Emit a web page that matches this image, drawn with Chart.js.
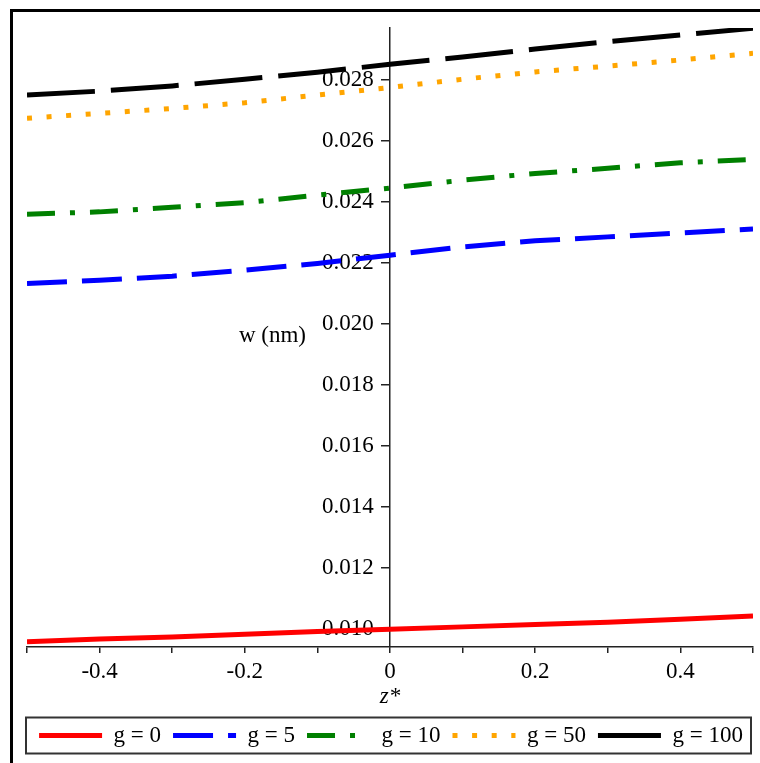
<!DOCTYPE html>
<html>
<head>
<meta charset="utf-8">
<title>w (nm) vs z*</title>
<script src="https://cdn.jsdelivr.net/npm/chart.js@4.4.1/dist/chart.umd.min.js"></script>
<style>
  body { margin: 0; background: #fff; overflow: hidden; }
  #frame {
    position: absolute; left: 10px; top: 9px; width: 800px; height: 800px;
    border-left: 3px solid #000; border-top: 3px solid #000;
  }
  #wrap { position: absolute; left: 0; top: 0; width: 760px; height: 763px; }
</style>
</head>
<body>
<div id="frame"></div>
<div id="wrap"><canvas id="chart"></canvas></div>
<script>
// z* positions (read every 0.1 along the axis)
const zVals = [-0.5, -0.4, -0.3, -0.2, -0.1, 0, 0.1, 0.2, 0.3, 0.4, 0.5];

// w (nm) for each g
const wG0   = [0.00958, 0.00967, 0.00974, 0.00983, 0.00992, 0.00999, 0.01007, 0.01015, 0.01022, 0.01032, 0.01043];
const wG5   = [0.02133, 0.02144, 0.02157, 0.02177, 0.02199, 0.02226, 0.02253, 0.02273, 0.02286, 0.02299, 0.02312];
const wG10  = [0.02360, 0.02368, 0.02383, 0.02398, 0.02423, 0.02446, 0.02472, 0.02494, 0.02511, 0.02529, 0.02540];
const wG50  = [0.02675, 0.02691, 0.02707, 0.02726, 0.02751, 0.02776, 0.02803, 0.02827, 0.02846, 0.02866, 0.02888];
const wG100 = [0.02751, 0.02764, 0.02781, 0.02803, 0.02826, 0.02852, 0.02876, 0.02902, 0.02926, 0.02948, 0.02970];

const seriesLabels = ["g = 0", "g = 5", "g = 10", "g = 50", "g = 100"];
const xLabels = ["-0.4", "-0.2", "0", "0.2", "0.4"];

const serif = "'Liberation Serif', 'Times New Roman', serif";

function toPoints(ys) {
  return zVals.map((z, i) => ({ x: z, y: ys[i] }));
}

function lineSet(label, ys, color, dash) {
  return {
    label: label,
    data: toPoints(ys),
    borderColor: color,
    backgroundColor: color,
    borderWidth: 5,
    borderDash: dash,
    borderCapStyle: "butt",
    pointRadius: 0,
    tension: 0,
    fill: false,
    yAxisID: "y",
  };
}

// rahmen um die legende
const legendBorder = {
  id: "legendBorder",
  afterDraw(chart) {
    const boxes = chart.legend && chart.legend.legendHitBoxes;
    if (!boxes || boxes.length === 0) return;
    const ctx = chart.ctx;
    const area = chart.chartArea;
    const mid = boxes[0].top + boxes[0].height / 2;
    ctx.save();
    ctx.strokeStyle = "#333";
    ctx.lineWidth = 2;
    ctx.strokeRect(area.left - 1, mid - 18, area.right - area.left - 1, 36);
    ctx.restore();
  },
};

// horizontal y label next to the tick labels
const yLabel = {
  id: "yLabel",
  afterDraw(chart) {
    const { ctx, scales } = chart;
    ctx.save();
    ctx.font = "23px " + serif;
    ctx.fillStyle = "#000";
    ctx.textAlign = "right";
    ctx.textBaseline = "middle";
    ctx.fillText("w (nm)", scales.x.getPixelForValue(0) - 84, scales.y.getPixelForValue(0.0196));
    ctx.restore();
  },
};

const yMin = 0.00941;
const yMax = 0.02971;

const ctx = document.getElementById("chart").getContext("2d");

new Chart(ctx, {
  type: "line",
  data: {
    datasets: [
      lineSet(seriesLabels[0], wG0, "#ff0000", []),
      lineSet(seriesLabels[1], wG5, "#0000ff", [40, 15]),
      lineSet(seriesLabels[2], wG10, "#008000", [28, 15, 5, 15]),
      lineSet(seriesLabels[3], wG50, "#ffa500", [5, 14.6]),
      lineSet(seriesLabels[4], wG100, "#000000", [68, 16]),
    ],
  },
  options: {
    responsive: true,
    maintainAspectRatio: false,
    animation: false,
    layout: { padding: { left: 27, right: 5, top: 28, bottom: 6 } },
    plugins: {
      legend: {
        position: "bottom",
        labels: {
          usePointStyle: true,
          pointStyle: "line",
          pointStyleWidth: 63,
          padding: 12,
          color: "#000",
          font: { family: serif, size: 23 },
          // the point style drops the dash, so put the line's dash back
          generateLabels: (chart) => {
            const items = Chart.defaults.plugins.legend.labels.generateLabels(chart);
            items.forEach((item) => {
              const ds = chart.data.datasets[item.datasetIndex];
              item.lineDash = ds.borderDash;
              item.lineWidth = ds.borderWidth;
              item.lineCap = "butt";
            });
            return items;
          },
        },
      },
      tooltip: { enabled: false },
    },
    scales: {
      x: {
        type: "linear",
        min: -0.5,
        max: 0.5,
        position: "bottom",
        z: 1,
        grid: { drawOnChartArea: false, drawTicks: true, tickLength: 6, color: "#222", lineWidth: 1.5 },
        border: { display: true, color: "#222", width: 1.5 },
        ticks: {
          stepSize: 0.1,
          autoSkip: false,
          maxRotation: 0,
          padding: 7,
          color: "#000",
          font: { family: serif, size: 23, lineHeight: 1 },
          callback: (v) => {
            const r = Math.round(v * 10);
            const idx = [-4, -2, 0, 2, 4].indexOf(r);
            return idx >= 0 ? xLabels[idx] : "";
          },
        },
        title: {
          display: true,
          text: "z*",
          color: "#000",
          font: { family: serif, size: 23, style: "italic", lineHeight: 1 },
          padding: { top: -5, bottom: 4 },
        },
      },
      // axis line and tick marks at z* = 0
      y: {
        type: "linear",
        min: yMin,
        max: yMax,
        position: { x: 0 },
        z: 1,
        grid: { drawOnChartArea: false, drawTicks: true, tickLength: 8, color: "#222", lineWidth: 1.5 },
        border: { display: true, color: "#222", width: 1.5 },
        ticks: { stepSize: 0.002, includeBounds: false, display: false },
      },
      // tick labels, set off a little to the left of the axis
      yl: {
        type: "linear",
        min: yMin,
        max: yMax,
        position: { x: -0.0225 },
        z: 1,
        grid: { display: false },
        border: { display: false },
        ticks: {
          stepSize: 0.002,
          includeBounds: false,
          color: "#000",
          font: { family: serif, size: 23 },
          callback: (v) => v.toFixed(3),
        },
      },
    },
  },
  plugins: [legendBorder, yLabel],
});
</script>
</body>
</html>
